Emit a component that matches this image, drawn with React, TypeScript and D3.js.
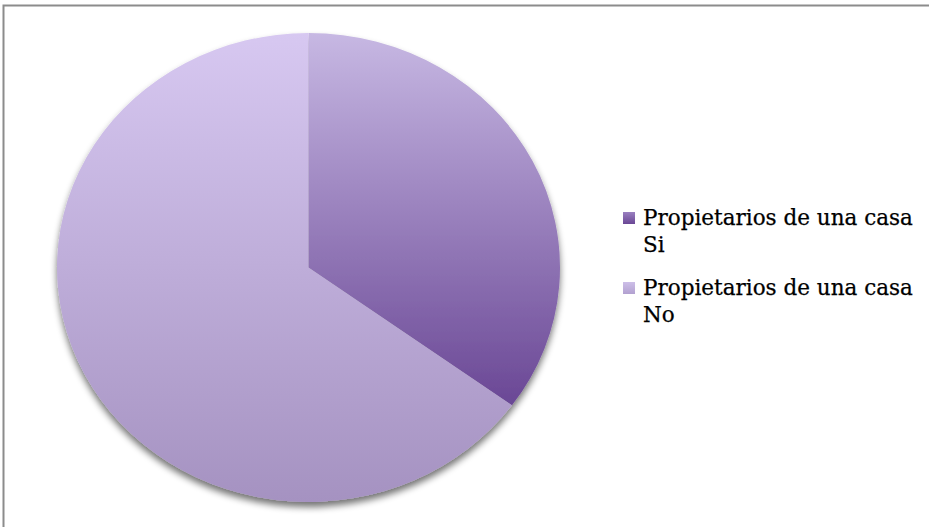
import React from "react";
import * as d3 from "d3";

const categories = ["Propietarios de una casa Si", "Propietarios de una casa No"];
const legendLines = [
  ["Propietarios de una casa", "Si"],
  ["Propietarios de una casa", "No"],
];
const values = [35, 65];
const topColors = ["#c7b8e3", "#d7c8f1"];
const bottomColors = ["#6a4795", "#a592c1"];

const W = 929;
const H = 527;

export default function App() {
  const cx = 308.5;
  const cy = 267.5;
  const rx = 251.5;
  const ry = 234.5;
  const pie = d3.pie<number>().sort(null).value((d) => d);
  const arcs = pie(values);
  const arc = d3.arc<d3.PieArcDatum<number>>().innerRadius(0).outerRadius(ry);

  return (
    <svg
      width={W}
      height={H}
      style={{ position: "absolute", left: 0, top: 0, background: "#fff" }}
    >
      <defs>
        {categories.map((c, i) => (
          <linearGradient key={c} id={`g${i}`} x1="0" y1="0" x2="0" y2="1">
            <stop offset="0" stopColor={topColors[i]} />
            <stop offset="1" stopColor={bottomColors[i]} />
          </linearGradient>
        ))}
        {categories.map((c, i) => (
          <linearGradient key={c + "m"} id={`m${i}`} x1="0" y1="0" x2="0" y2="1">
            <stop offset="0" stopColor={i === 0 ? "#9a80c0" : "#cdbfe8"} />
            <stop offset="1" stopColor={i === 0 ? "#6a4795" : "#b2a1d0"} />
          </linearGradient>
        ))}
        <filter id="sh" x="-20%" y="-20%" width="140%" height="140%">
          <feGaussianBlur in="SourceAlpha" stdDeviation="3.5" />
          <feOffset dx="0" dy="5" result="b" />
          <feComponentTransfer>
            <feFuncA type="linear" slope="0.55" />
          </feComponentTransfer>
          <feMerge>
            <feMergeNode />
            <feMergeNode in="SourceGraphic" />
          </feMerge>
        </filter>
      </defs>
      <rect x={3.5} y={5.5} width={960} height={560} fill="#fff" stroke="#8c8c8c" strokeWidth={2} />
      <g transform={`translate(${cx},${cy}) scale(${rx / ry},1)`} filter="url(#sh)">
        {arcs.map((a, i) => (
          <path key={i} d={arc(a) || ""} fill={`url(#g${i})`} />
        ))}
      </g>
      <g fontFamily="DejaVu Serif" fontSize={21.5} fill="#000">
        {legendLines.map((lines, i) => {
          const y0 = 225 + i * 70;
          return (
            <g key={i}>
              <rect x={623} y={y0 - 13} width={12} height={12} fill={`url(#m${i})`} />
              {lines.map((t, j) => (
                <text key={j} x={643} y={y0 + j * 27} stroke="#000" strokeWidth={0.25}>
                  {t}
                </text>
              ))}
            </g>
          );
        })}
      </g>
    </svg>
  );
}
